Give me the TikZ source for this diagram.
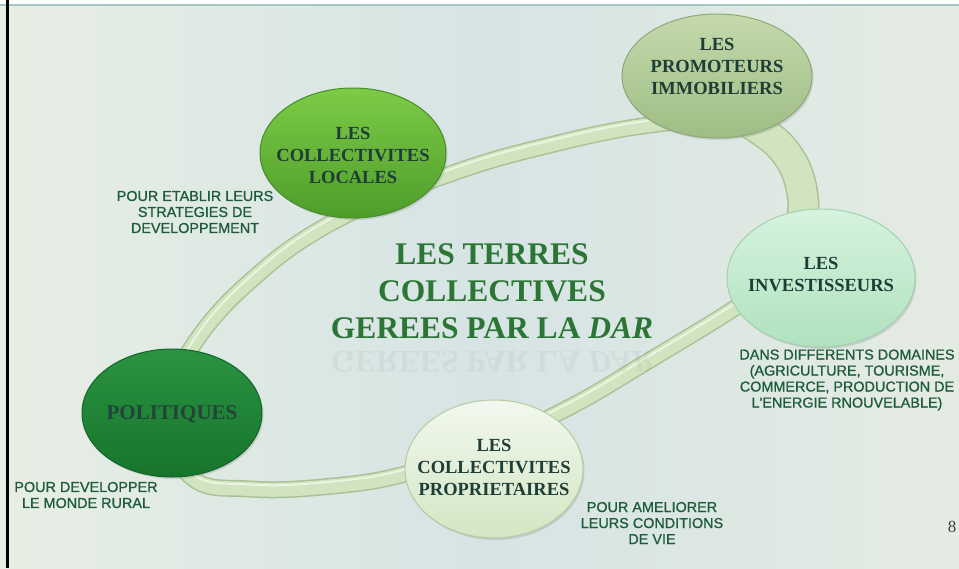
\documentclass[tikz,border=0pt]{standalone}
\usepackage{fontspec}
\setmainfont{Liberation Serif}
\setsansfont{Liberation Sans}
\newfontfamily\notefont{Liberation Sans}[FakeBold=0.9]
\usepackage{graphicx}
\usetikzlibrary{shapes.geometric, shadows}

\definecolor{bgleft}{HTML}{E7EEE4}
\definecolor{bgmid}{HTML}{D6E4E4}
\definecolor{bgright}{HTML}{E4EBE3}
\definecolor{topline}{HTML}{A9C4C4}
\definecolor{ringedge}{HTML}{A9C196}
\definecolor{ringmain}{HTML}{D0E5BF}
\definecolor{ringhigh}{HTML}{EAF4E1}
\definecolor{localestop}{HTML}{7DCB46}
\definecolor{localesbot}{HTML}{4E9D2B}
\definecolor{localesedge}{HTML}{448E27}
\definecolor{promotop}{HTML}{C4D9AC}
\definecolor{promobot}{HTML}{9EBD84}
\definecolor{promoedge}{HTML}{8CA976}
\definecolor{investop}{HTML}{D6F3DE}
\definecolor{invesbot}{HTML}{B0E2BE}
\definecolor{invesedge}{HTML}{A3D0AF}
\definecolor{propritop}{HTML}{F2F8EE}
\definecolor{propribot}{HTML}{D3E6C4}
\definecolor{propriedge}{HTML}{B5CCA3}
\definecolor{politop}{HTML}{2A9341}
\definecolor{polibot}{HTML}{17752B}
\definecolor{poliedge}{HTML}{12652A}
\definecolor{bubbleink}{HTML}{1F3D37}
\definecolor{poliink}{HTML}{23443A}
\definecolor{titlegreen}{HTML}{2B7635}
\definecolor{noteink}{HTML}{1D5C3A}

\tikzstyle{bubble}=[ellipse, inner sep=0pt, line width=1pt, drop shadow={shadow xshift=1.5pt, shadow yshift=-2pt, opacity=0.25}]
\tikzstyle{bubbletext}=[align=center, text=bubbleink, font=\bfseries\fontsize{18.5}{22}\selectfont]
\tikzstyle{title}=[align=center, text=titlegreen, font=\bfseries\fontsize{31.5}{37}\selectfont]
\tikzstyle{note}=[align=center, text=noteink, font=\notefont\fontsize{14.4}{16}\selectfont]
\tikzstyle{ringband}=[line width=17pt, draw=ringedge, line join=round, postaction={draw=ringmain, line width=14pt}, postaction={draw=ringhigh, line width=2pt, transform canvas={yshift=4.5pt}}]
\tikzstyle{ringthick}=[line width=32pt, draw=ringedge, line cap=round, postaction={draw=ringmain, line width=29pt, line cap=round}]

\begin{document}
\begin{tikzpicture}[x=1pt, y=-1pt]
\useasboundingbox (0,0) rectangle (959,568);
% Slide
    \shade[left color=bgleft, right color=bgright, middle color=bgmid] (0,0) rectangle (959,568);
    \fill[white!92!bgleft] (0,0) rectangle (959,4);
    \draw[topline, line width=1.5pt] (0,5) -- (959,5);
    \draw[black, line width=3pt] (7,0) -- (7,568);
% Ring
    \draw[ringband] plot[smooth cycle, tension=0.7] coordinates {(165,410) (190,350) (247,284) (333,222) (450,174) (550,145) (650,125) (730,122) (782,148) (803,198) (792,248) (760,288) (735,308) (650,360) (568,408) (480,448) (405,474) (333,486) (250,489) (190,476)};
    \draw[ringthick] plot[smooth, tension=0.7] coordinates {(730,112) (782,148) (803,198) (795,245)};
% Title
    \node[title] (terres) at (492,291) {LES TERRES\\COLLECTIVES\\GEREES PAR LA \textit{DAR}};
    \node[title, text=black!60, text opacity=0.07] (terres-reflet) at (492,362) {\scalebox{1}[-1]{GEREES PAR LA \textit{DAR}}};
% Bubbles
    \node[bubble, minimum width=186, minimum height=130, top color=localestop, bottom color=localesbot, draw=localesedge] (locales) at (353,153) {};
    \node[bubble, minimum width=190, minimum height=124, top color=promotop, bottom color=promobot, draw=promoedge] (promoteurs) at (717,76) {};
    \node[bubble, minimum width=188, minimum height=138, top color=investop, bottom color=invesbot, draw=invesedge] (investisseurs) at (821,278) {};
    \node[bubble, minimum width=178, minimum height=138, top color=propritop, bottom color=propribot, draw=propriedge] (proprietaires) at (494,469) {};
    \node[bubble, minimum width=180, minimum height=128, top color=politop, bottom color=polibot, draw=poliedge] (politiques) at (172,413) {};
    \node[bubbletext] (locales-t) at (353,155) {LES\\COLLECTIVITES\\LOCALES};
    \node[bubbletext] (promoteurs-t) at (717,66) {LES\\PROMOTEURS\\IMMOBILIERS};
    \node[bubbletext] (investisseurs-t) at (821,275) {LES\\INVESTISSEURS};
    \node[bubbletext] (proprietaires-t) at (494,467) {LES\\COLLECTIVITES\\PROPRIETAIRES};
    \node[bubbletext, text=poliink, font=\bfseries\fontsize{21}{24}\selectfont] (politiques-t) at (172,414) {POLITIQUES};
% Notes
    \node[note] (locales-n) at (195,212) {POUR ETABLIR LEURS\\STRATEGIES DE\\DEVELOPPEMENT};
    \node[note] (politiques-n) at (86,495) {POUR DEVELOPPER\\LE MONDE RURAL};
    \node[note] (proprietaires-n) at (652,523) {POUR AMELIORER\\LEURS CONDITIONS\\DE VIE};
    \node[note] (investisseurs-n) at (847,380) {DANS DIFFERENTS DOMAINES\\(AGRICULTURE, TOURISME,\\COMMERCE, PRODUCTION DE\\L'ENERGIE RNOUVELABLE)};
    \node[text=black!75, font=\fontsize{17}{20}\selectfont] (page) at (952,527) {8};
\end{tikzpicture}
\end{document}
